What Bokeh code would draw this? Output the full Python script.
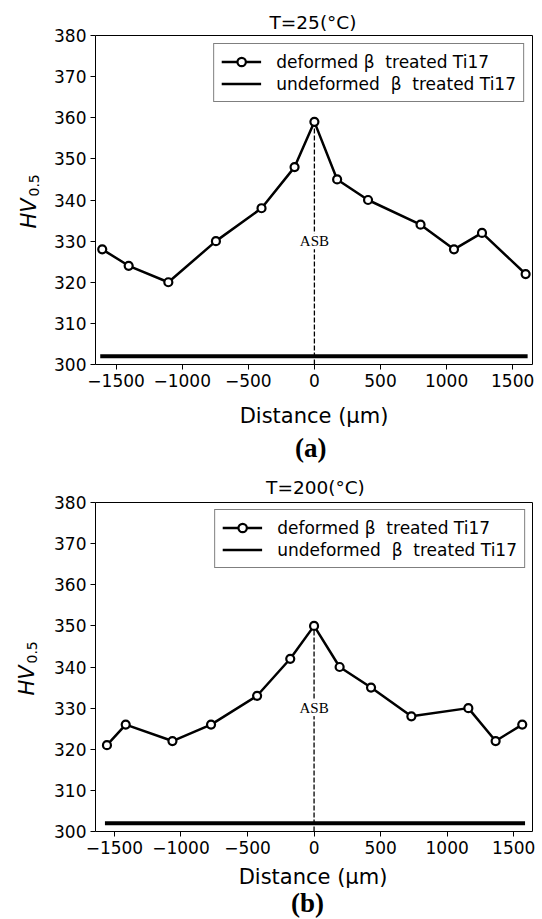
import math
from bokeh.plotting import figure
from bokeh.models import Label, Legend, LegendItem, FixedTicker, Range1d
from bokeh.layouts import column
from bokeh.embed import file_html
from bokeh.resources import INLINE

# ---------------- data ----------------
dist_a = [-1605, -1405, -1105, -745, -400, -150, 0, 172, 406, 803, 1056, 1268, 1598]
hv_a = [328, 324, 320, 330, 338, 348, 359, 345, 340, 334, 328, 332, 322]
base_dist_a = [-1605, 1598]
base_hv_a = [302, 302]

dist_b = [-1556, -1415, -1064, -774, -428, -179, 0, 192, 428, 731, 1159, 1364, 1564]
hv_b = [321, 326, 322, 326, 333, 342, 350, 340, 335, 328, 330, 322, 326]
base_dist_b = [-1556, 1570]
base_hv_b = [302, 302]

xlim_a = (-1656, 1650)
xlim_b = (-1642, 1641)
ylim = (300, 380)

x_ticks = [-1500, -1000, -500, 0, 500, 1000, 1500]
x_tick_labels = ["\u22121500", "\u22121000", "\u2212500", "0", "500", "1000", "1500"]
y_ticks = [300, 310, 320, 330, 340, 350, 360, 370, 380]

titles = ["T=25(\u00b0C)", "T=200(\u00b0C)"]
panel_tags = ["(a)", "(b)"]
series_labels = ["deformed \u03b2  treated Ti17", "undeformed  \u03b2  treated Ti17"]
x_label = "Distance (\u03bcm)"
asb_label = "ASB"

SANS = "DejaVu Sans"
SERIF = "Liberation Serif"
MID = 0.35  # distance (in em) from baseline to the text's middle anchor


def make_panel(dist, hv, base_d, base_v, xlim, title, tag, W, H, bl, br, bt, bb, pos,
               legend_margin):
    p = figure(width=W, height=H, x_range=Range1d(*xlim), y_range=Range1d(*ylim),
               output_backend="svg", toolbar_location=None,
               min_border_left=bl, min_border_right=br,
               min_border_top=bt, min_border_bottom=bb)
    p.grid.visible = False
    p.outline_line_color = "black"
    p.outline_line_width = 1
    p.background_fill_color = "white"
    p.border_fill_color = "white"

    for ax in (p.xaxis[0], p.yaxis[0]):
        ax.axis_line_color = None
        ax.major_tick_line_color = "black"
        ax.major_tick_line_width = 1
        ax.major_tick_out = 5
        ax.major_tick_in = 0
        ax.minor_tick_line_color = None
        ax.major_label_text_font = SANS
        ax.major_label_text_font_size = "17px"
        ax.major_label_text_color = "black"
        ax.major_label_standoff = 4
    p.xaxis.ticker = FixedTicker(ticks=x_ticks)
    p.xaxis.major_label_overrides = dict(zip(x_ticks, x_tick_labels))
    p.yaxis.ticker = FixedTicker(ticks=y_ticks)

    fw = W - bl - br
    fh = H - bt - bb

    # pixel offsets from the frame's bottom-left corner -> data coordinates
    def dx(px):
        return xlim[0] + px * (xlim[1] - xlim[0]) / fw

    def dy(py):
        return ylim[0] + py * (ylim[1] - ylim[0]) / fh

    # ASB dashed marker line
    p.segment(x0=[0], y0=[ylim[0]], x1=[0], y1=[max(hv)], line_color="black",
              line_width=1.3, line_dash="5 2")
    p.add_layout(Label(x=0, y=330, text=asb_label, text_font=SERIF,
                       text_font_size="15px", text_align="center",
                       text_baseline="middle", text_color="black",
                       background_fill_color="white"))

    p.line(base_d, base_v, line_color="black", line_width=4, line_cap="square")
    # thinner copy (hidden under the thick line) used for the legend sample
    base_leg = p.line(base_d, base_v, line_color="black", line_width=2.6)
    line_r = p.line(dist, hv, line_color="black", line_width=2.5)
    pts_r = p.scatter(dist, hv, size=8, marker="circle", fill_color="white",
                      line_color="black", line_width=2.2)

    legend = Legend(items=[LegendItem(label=series_labels[0], renderers=[line_r, pts_r]),
                           LegendItem(label=series_labels[1], renderers=[base_leg])],
                    location="top_right", margin=legend_margin, padding=7, spacing=1,
                    label_text_font=SANS, label_text_font_size="17px",
                    label_text_color="black",
                    label_height=21, glyph_height=21, glyph_width=40,
                    label_standoff=15, border_line_color="black",
                    border_line_width=1.2, background_fill_color="white",
                    background_fill_alpha=1.0)
    p.add_layout(legend)

    # texts outside the frame (side panels are not clipped); anchors are text middles
    p.add_layout(Label(x=dx(pos["title_x"]), y=dy(pos["title_base"] + MID * 18.5),
                       text=title, text_font=SANS, text_font_size="18.5px",
                       text_color="black", text_align="center",
                       text_baseline="middle"), "above")
    p.add_layout(Label(x=dx(pos["hv_base"] - MID * 21), y=dy(fh / 2 - 28.5),
                       text="HV", text_font=SANS, text_font_style="italic",
                       text_font_size="21px", text_color="black", angle=math.pi / 2,
                       text_align="left", text_baseline="middle"), "left")
    p.add_layout(Label(x=dx(pos["hv_base"] + 2.5 - MID * 14), y=dy(fh / 2 + 3.5),
                       text="0.5", text_font=SANS, text_font_size="14px",
                       text_color="black", angle=math.pi / 2,
                       text_align="left", text_baseline="middle"), "left")
    p.add_layout(Label(x=dx(pos["xlab_x"]), y=dy(pos["xlab_base"] + MID * 21),
                       text=x_label, text_font=SANS, text_font_size="21px",
                       text_color="black", text_align="center",
                       text_baseline="middle"), "below")
    p.add_layout(Label(x=dx(pos["tag_x"]), y=dy(pos["tag_base"] + MID * 27),
                       text=tag, text_font=SERIF, text_font_style="bold",
                       text_font_size="27px", text_color="black",
                       text_align="center", text_baseline="middle"), "below")
    return p


pa = make_panel(dist_a, hv_a, base_dist_a, base_hv_a, xlim_a, titles[0], panel_tags[0],
                W=542, H=470, bl=88, br=10, bt=35, bb=106,
                pos=dict(title_x=221, title_base=335.7, hv_base=-60, xlab_x=222,
                         xlab_base=-58.5, tag_x=218.7, tag_base=-93),
                legend_margin=8)
pb = make_panel(dist_b, hv_b, base_dist_b, base_hv_b, xlim_b, titles[1], panel_tags[1],
                W=542, H=449, bl=95, br=4, bt=32, bb=88,
                pos=dict(title_x=223, title_base=338, hv_base=-62, xlab_x=220.5,
                         xlab_base=-53, tag_x=215, tag_base=-81),
                legend_margin=7)

layout = column(pa, pb, spacing=0)
open("out.html", "w").write(file_html(layout, INLINE))
